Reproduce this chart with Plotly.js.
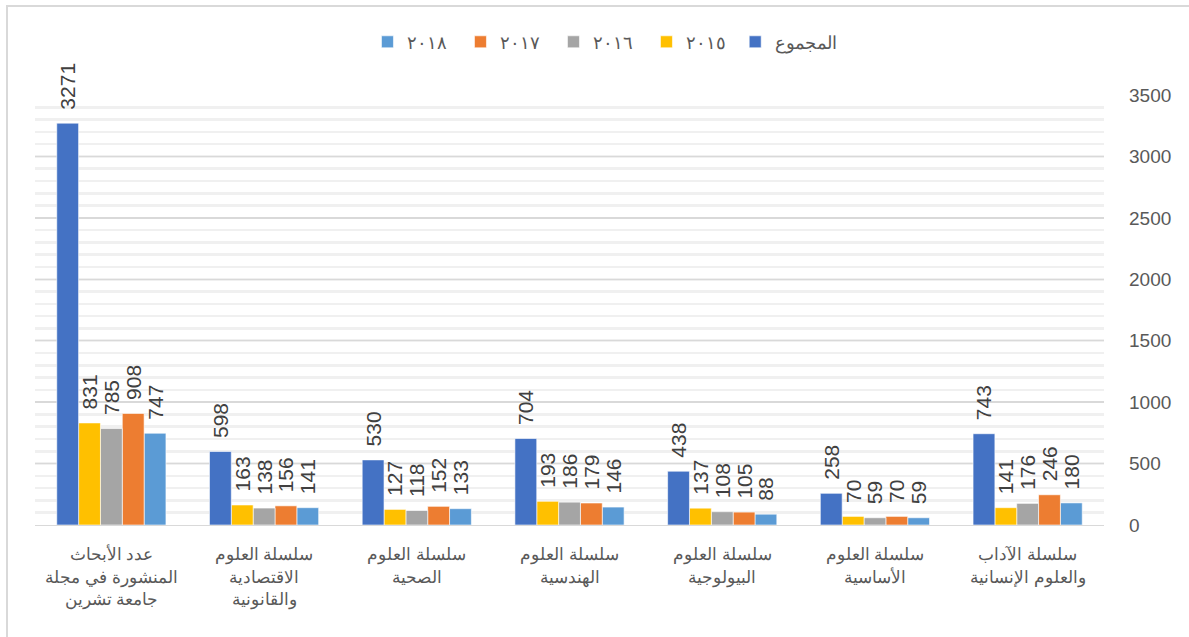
<!DOCTYPE html>
<html>
<head>
<meta charset="utf-8">
<script src="https://cdn.plot.ly/plotly-3.0.1.min.js"></script>
<style>
  html, body { margin: 0; padding: 0; background: #fff; }
  #wrap { position: relative; width: 1189px; height: 637px; overflow: hidden; }
  #frame { position: absolute; left: 6px; top: 5px; width: 1300px; height: 700px;
           border-top: 2px solid #d9d9d9; border-left: 2px solid #d9d9d9; pointer-events: none; }
  #chart { position: absolute; left: 0; top: 0; width: 1189px; height: 637px; }
</style>
</head>
<body>
<div id="wrap">
  <div id="chart"></div>
  <div id="frame"></div>
</div>
<script>
// Categories in original (right-to-left) order
const categories = [
  'سلسلة الآداب<br>والعلوم الإنسانية',
  'سلسلة العلوم<br>الأساسية',
  'سلسلة العلوم<br>البيولوجية',
  'سلسلة العلوم<br>الهندسية',
  'سلسلة العلوم<br>الصحية',
  'سلسلة العلوم<br>الاقتصادية<br>والقانونية',
  'عدد الأبحاث<br>المنشورة في مجلة<br>جامعة تشرين'
];
const seriesNames = ['٢٠١٨', '٢٠١٧', '٢٠١٦', '٢٠١٥', 'المجموع'];
const v2018  = [180, 59, 88, 146, 133, 141, 747];
const v2017  = [246, 70, 105, 179, 152, 156, 908];
const v2016  = [176, 59, 108, 186, 118, 138, 785];
const v2015  = [141, 70, 137, 193, 127, 163, 831];
const vTotal = [743, 258, 438, 704, 530, 598, 3271];
const colors = ['#5B9BD5', '#ED7D31', '#A5A5A5', '#FFC000', '#4472C4'];
const yTicks = [0, 500, 1000, 1500, 2000, 2500, 3000, 3500];

const allValues = [v2018, v2017, v2016, v2015, vTotal];
const traces = allValues.map((vals, i) => ({
  type: 'bar',
  name: seriesNames[i],
  legend: i === 4 ? 'legend2' : 'legend',
  x: categories,
  y: vals,
  texttemplate: '\u2002%{y}',
  textposition: 'outside',
  textangle: -90,
  constraintext: 'none',
  cliponaxis: false,
  textfont: { family: 'Liberation Sans, Arial, sans-serif', size: 21, color: '#404040' },
  marker: { color: colors[i], line: { color: '#ffffff', width: 0.6 } },
  hoverinfo: 'x+y+name'
}));

const legendFont = { family: 'Liberation Sans, Arial, sans-serif', size: 18, color: '#595959' };

const layout = {
  width: 1189,
  height: 637,
  margin: { l: 35, r: 85, t: 95, b: 112 },
  paper_bgcolor: '#ffffff',
  plot_bgcolor: '#ffffff',
  barmode: 'group',
  bargap: 0.285,
  bargroupgap: 0,
  showlegend: true,
  legend: {
    orientation: 'h',
    x: 0.311, xanchor: 'left',
    y: 1.123, yanchor: 'middle',
    traceorder: 'normal',
    font: legendFont,
    entrywidth: 48,
    entrywidthmode: 'pixels',
    itemclick: false
  },
  legend2: {
    orientation: 'h',
    x: 0.655, xanchor: 'left',
    y: 1.123, yanchor: 'middle',
    font: legendFont,
    itemclick: false
  },
  xaxis: {
    type: 'category',
    autorange: 'reversed',
    showgrid: false,
    showline: true,
    linecolor: '#d9d9d9',
    linewidth: 1,
    ticks: '',
    ticklabelstandoff: 14,
    tickfont: { family: 'Liberation Sans, Arial, sans-serif', size: 17, color: '#595959' },
    zeroline: false
  },
  yaxis: {
    side: 'right',
    range: [0, 3500],
    tickvals: yTicks,
    ticktext: yTicks.map(String),
    showgrid: true,
    gridcolor: '#d9d9d9',
    gridwidth: 1.5,
    minor: { dtick: 100, showgrid: true, gridcolor: '#f0f0f0', gridwidth: 2.5 },
    zeroline: false,
    showline: false,
    ticks: '',
    ticklabelstandoff: 24,
    tickfont: { family: 'Liberation Sans, Arial, sans-serif', size: 19, color: '#595959' }
  }
};

Plotly.newPlot('chart', traces, layout, { displayModeBar: false, staticPlot: true });
</script>
</body>
</html>
